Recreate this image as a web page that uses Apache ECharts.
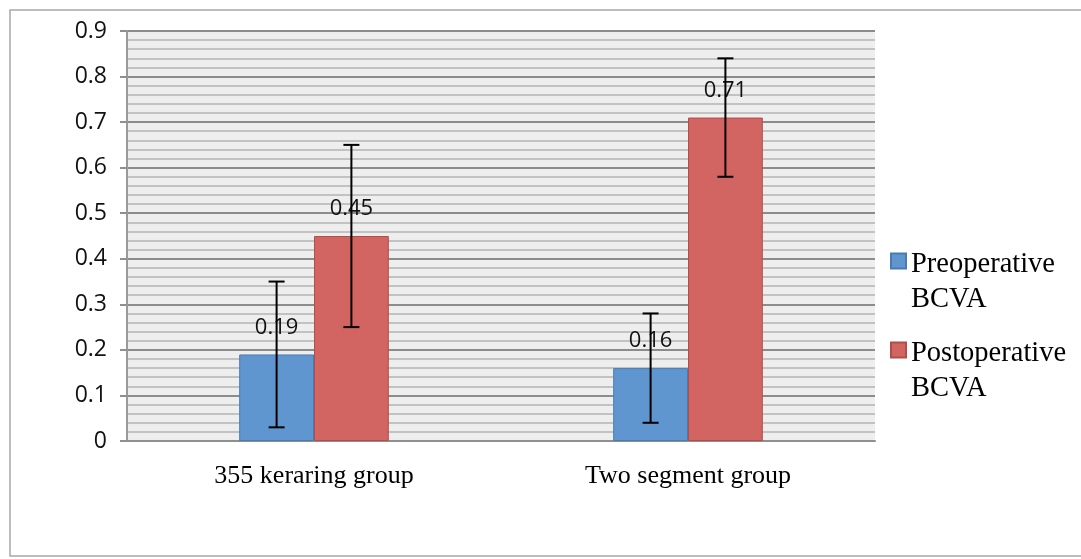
<!DOCTYPE html>
<html>
<head>
<meta charset="utf-8">
<script src="https://cdn.jsdelivr.net/npm/echarts@6/dist/echarts.min.js"></script>
<style>
html,body{margin:0;padding:0;background:#fff;}
#chart{width:1081px;height:559px;}
</style>
</head>
<body>
<div id="chart"></div>
<script>
var categories = ['355 keraring group', 'Two segment group'];
var seriesNames = ['Preoperative\nBCVA', 'Postoperative\nBCVA'];
var preValues = [0.19, 0.16];
var postValues = [0.45, 0.71];
var preErr = [0.16, 0.12];
var postErr = [0.20, 0.13];
var yTicks = [0, 0.1, 0.2, 0.3, 0.4, 0.5, 0.6, 0.7, 0.8, 0.9];

var chart = echarts.init(document.getElementById('chart'), null, {renderer: 'canvas'});

function errorItem(values, errs, side) {
  return function (params, api) {
    var i = api.value(0);
    var v = values[i], e = errs[i];
    var bw = api.size([1, 0])[0] * 0.2;
    var base = api.coord([i, v]);
    var x = base[0] + side * bw / 2;
    var top = api.coord([i, v + e])[1];
    var bot = api.coord([i, v - e])[1];
    var cap = 8;
    var st = {stroke: '#000', lineWidth: 2};
    return {
      type: 'group',
      children: [
        {type: 'line', shape: {x1: x, y1: top, x2: x, y2: bot}, style: st},
        {type: 'line', shape: {x1: x - cap, y1: top, x2: x + cap, y2: top}, style: st},
        {type: 'line', shape: {x1: x - cap, y1: bot, x2: x + cap, y2: bot}, style: st}
      ]
    };
  };
}

var legendText = {
  fontFamily: 'Liberation Serif',
  fontSize: 28.5,
  color: '#000',
  rich: {
    e: {lineHeight: 43, fontSize: 10},
    t: {fontFamily: 'Liberation Serif', fontSize: 28.5, lineHeight: 35, color: '#000'}
  }
};
function legendFormatter(name) {
  var lines = name.split('\n');
  return '{e| }\n' + lines.map(function (l) { return '{t|' + l + '}'; }).join('\n');
}

var option = {
  animation: false,
  backgroundColor: '#fff',
  graphic: [{
    type: 'rect',
    shape: {x: 10, y: 10, width: 1090, height: 546},
    style: {fill: 'none', stroke: '#a8a8a8', lineWidth: 1.5},
    silent: true,
    z: -10
  }],
  grid: {
    left: 127, right: 206, top: 31, bottom: 118,
    show: true, backgroundColor: '#eeeeee', borderWidth: 0
  },
  legend: [{
    data: [seriesNames[0]],
    orient: 'vertical', left: 890, top: 221, padding: 0,
    icon: 'rect', itemWidth: 15, itemHeight: 15,
    selectedMode: false,
    formatter: legendFormatter,
    textStyle: legendText
  }, {
    data: [seriesNames[1]],
    orient: 'vertical', left: 890, top: 310, padding: 0,
    icon: 'rect', itemWidth: 15, itemHeight: 15,
    selectedMode: false,
    formatter: legendFormatter,
    textStyle: legendText
  }],
  xAxis: {
    type: 'category',
    data: categories,
    axisLine: {show: true, lineStyle: {color: '#8f8f8f', width: 2}},
    axisTick: {show: false},
    axisLabel: {
      fontFamily: 'Liberation Serif', fontSize: 26, color: '#000', margin: 22
    },
    splitLine: {show: false}
  },
  yAxis: {
    type: 'value',
    min: 0, max: 0.9, interval: 0.1,
    axisLine: {show: true, lineStyle: {color: '#9a9a9a', width: 2}},
    axisTick: {show: true, length: 7, lineStyle: {color: '#8f8f8f', width: 2}},
    minorTick: {show: false, splitNumber: 5},
    minorSplitLine: {show: true, lineStyle: {color: '#c2c2c2', width: 2}},
    splitLine: {show: true, lineStyle: {color: '#8c8c8c', width: 2}},
    axisLabel: {
      fontFamily: 'Open Sans', fontSize: 23, color: '#111', margin: 20,
      formatter: function (v) {
        var idx = yTicks.indexOf(Math.round(v * 10) / 10);
        return idx >= 0 ? String(yTicks[idx]) : '';
      }
    }
  },
  series: [{
    name: seriesNames[0],
    type: 'bar',
    data: preValues,
    barWidth: '20%',
    barGap: '0%',
    itemStyle: {color: '#6096cf', borderColor: '#4a7bb0', borderWidth: 1},
    label: {
      show: true, position: 'top', distance: 16,
      fontFamily: 'Open Sans', fontSize: 22, color: '#111'
    },
    z: 2
  }, {
    name: seriesNames[1],
    type: 'bar',
    data: postValues,
    barWidth: '20%',
    barGap: '0%',
    itemStyle: {color: '#d26561', borderColor: '#b04e4a', borderWidth: 1},
    label: {
      show: true, position: 'top', distance: 16,
      fontFamily: 'Open Sans', fontSize: 22, color: '#111'
    },
    z: 2
  }, {
    type: 'custom',
    name: 'preErr',
    data: categories.map(function (c, i) { return [i]; }),
    renderItem: errorItem(preValues, preErr, -1),
    z: 5
  }, {
    type: 'custom',
    name: 'postErr',
    data: categories.map(function (c, i) { return [i]; }),
    renderItem: errorItem(postValues, postErr, 1),
    z: 5
  }]
};

chart.setOption(option);
</script>
</body>
</html>
